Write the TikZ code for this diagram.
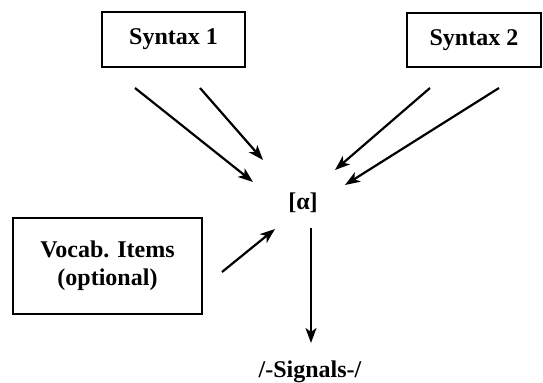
\documentclass[tikz,border=0pt]{standalone}
\usepackage{fontspec}
\setmainfont{Liberation Serif}
\usetikzlibrary{arrows.meta}

\begin{document}
\begin{tikzpicture}[x=0.5pt,y=-0.5pt]
  \tikzset{BoxStyle/.style = {
    shape         = rectangle,
    draw          = black,
    fill          = white,
    line width    = 1pt,
    text          = black,
    inner sep     = 2pt,
    outer sep     = 0pt,
    align         = center,
    font          = \bfseries\fontsize{12}{14}\selectfont
    }
  }
  \tikzset{LabelStyle/.style = {
    shape         = rectangle,
    inner sep     = 0pt,
    outer sep     = 0pt,
    font          = \bfseries\fontsize{12}{14}\selectfont
    }
  }
  \tikzset{EdgeStyle/.style = {
    draw          = black,
    line width    = 1.1pt,
    -{Stealth[length=7.5pt,width=5.5pt,inset=2pt]}
    }
  }
  \useasboundingbox (0,0) rectangle (543,383);

	\node[BoxStyle, minimum width=71.5pt, minimum height=27.5pt](S1) at (173.5, 39.5) {Syntax 1};
	\node[BoxStyle, minimum width=67pt, minimum height=27pt](S2) at (474, 40) {Syntax 2};
	\node[BoxStyle, minimum width=94.5pt, minimum height=48pt](V) at (107.5, 266) {Vocab. Items\\(optional)};
	\node[LabelStyle](A) at (303, 203) {[α]};
	\node[LabelStyle](SG) at (310, 372) {/-Signals-/};
	%
	\coordinate (S1a) at (135, 88);
	\coordinate (S1b) at (200, 88);
	\coordinate (S2a) at (430, 88);
	\coordinate (S2b) at (499, 88);
	\coordinate (Va)  at (222, 272);
	\coordinate (Aa)  at (311, 228);
	%
	\coordinate (A1) at (253, 182);
	\coordinate (A2) at (263, 160);
	\coordinate (A3) at (335, 170);
	\coordinate (A4) at (345, 185);
	\coordinate (A5) at (275, 229);
	\coordinate (A6) at (311, 343);
	%
	\draw[EdgeStyle](S1a) to (A1);
	\draw[EdgeStyle](S1b) to (A2);
	\draw[EdgeStyle](S2a) to (A3);
	\draw[EdgeStyle](S2b) to (A4);
	\draw[EdgeStyle](Va) to (A5);
	\draw[EdgeStyle](Aa) to (A6);

\end{tikzpicture}
\end{document}
